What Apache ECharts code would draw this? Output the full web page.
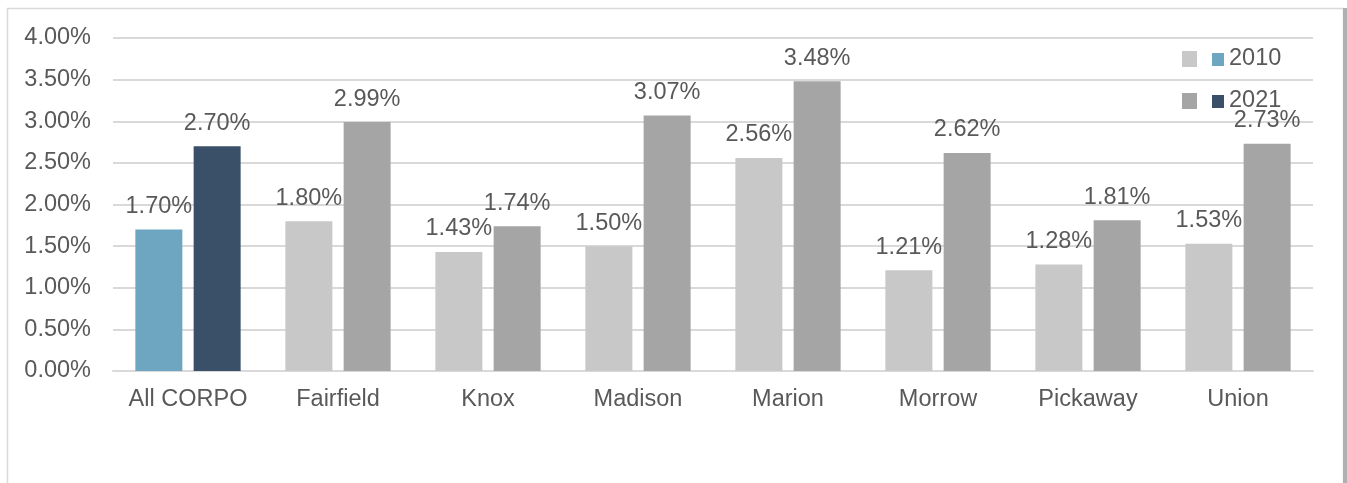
<!DOCTYPE html>
<html>
<head>
<meta charset="utf-8">
<script src="https://cdn.jsdelivr.net/npm/echarts@6/dist/echarts.min.js"></script>
<style>
  html, body { margin: 0; padding: 0; background: #fff; }
  #chart { width: 1347px; height: 483px; }
</style>
</head>
<body>
<div id="chart"></div>
<script>
// Growth rates by county, 2010 vs 2021
const categories = ['All CORPO', 'Fairfield', 'Knox', 'Madison', 'Marion', 'Morrow', 'Pickaway', 'Union'];
const values2010 = [1.70, 1.80, 1.43, 1.50, 2.56, 1.21, 1.28, 1.53];
const values2021 = [2.70, 2.99, 1.74, 3.07, 3.48, 2.62, 1.81, 2.73];
const yTicks = [0, 0.5, 1, 1.5, 2, 2.5, 3, 3.5, 4];

// The regional total is highlighted in blue; counties are grey
const colors2010 = { total: '#6ea6c2', county: '#c8c8c8' };
const colors2021 = { total: '#3a5068', county: '#a5a5a5' };

const textColor = '#595959';
const font = 'Liberation Sans, Arial, sans-serif';
const fontSize = 23.5;

function seriesData(values, palette) {
  return values.map((v, i) => ({
    value: v,
    itemStyle: { color: i === 0 ? palette.total : palette.county }
  }));
}

const labelStyle = {
  show: true,
  position: 'top',
  distance: 11,
  color: textColor,
  fontFamily: font,
  fontSize: fontSize,
  formatter: p => p.value.toFixed(2) + '%'
};

const chart = echarts.init(document.getElementById('chart'), null, { renderer: 'canvas' });

// Legend: a grey and a blue swatch per year, followed by the year
function legendRow(y, grey, blue, text) {
  return [
    { type: 'rect', shape: { x: 1182, y: y - 8, width: 15, height: 16 }, style: { fill: grey } },
    { type: 'rect', shape: { x: 1212, y: y - 6, width: 12, height: 13 }, style: { fill: blue } },
    { type: 'text', x: 1229, y: y, style: { text: text, fill: textColor, font: fontSize + 'px ' + font, textVerticalAlign: 'middle' } }
  ];
}

chart.setOption({
  animation: false,
  backgroundColor: '#ffffff',
  grid: { left: 113, right: 34, top: 38, bottom: 112 },
  xAxis: {
    type: 'category',
    data: categories,
    axisTick: { show: false },
    axisLine: { lineStyle: { color: '#d9d9d9', width: 2 } },
    axisLabel: { interval: 0, color: textColor, fontFamily: font, fontSize: fontSize, margin: 17 }
  },
  yAxis: {
    type: 'value',
    min: yTicks[0],
    max: yTicks[yTicks.length - 1],
    interval: yTicks[1] - yTicks[0],
    axisLine: { show: false },
    axisTick: { show: false },
    splitLine: { lineStyle: { color: '#d9d9d9', width: 2 } },
    axisLabel: {
      color: textColor, fontFamily: font, fontSize: fontSize, margin: 22,
      formatter: v => v.toFixed(2) + '%'
    }
  },
  series: [
    {
      name: '2010', type: 'bar', barWidth: 47, barGap: '24%',
      data: seriesData(values2010, colors2010), label: labelStyle
    },
    {
      name: '2021', type: 'bar', barWidth: 47, barGap: '24%',
      data: seriesData(values2021, colors2021), label: labelStyle
    }
  ],
  graphic: [
    // chart frame
    { type: 'rect', shape: { x: 7.5, y: 8.5, width: 1336, height: 490 }, style: { fill: 'none', stroke: '#d9d9d9', lineWidth: 1.5 }, silent: true },
    { type: 'rect', shape: { x: 1343, y: 8, width: 4, height: 475 }, style: { fill: '#b0b0b0' }, silent: true },
    ...legendRow(59, colors2010.county, colors2010.total, '2010'),
    ...legendRow(101, colors2021.county, colors2021.total, '2021')
  ]
});
</script>
</body>
</html>
